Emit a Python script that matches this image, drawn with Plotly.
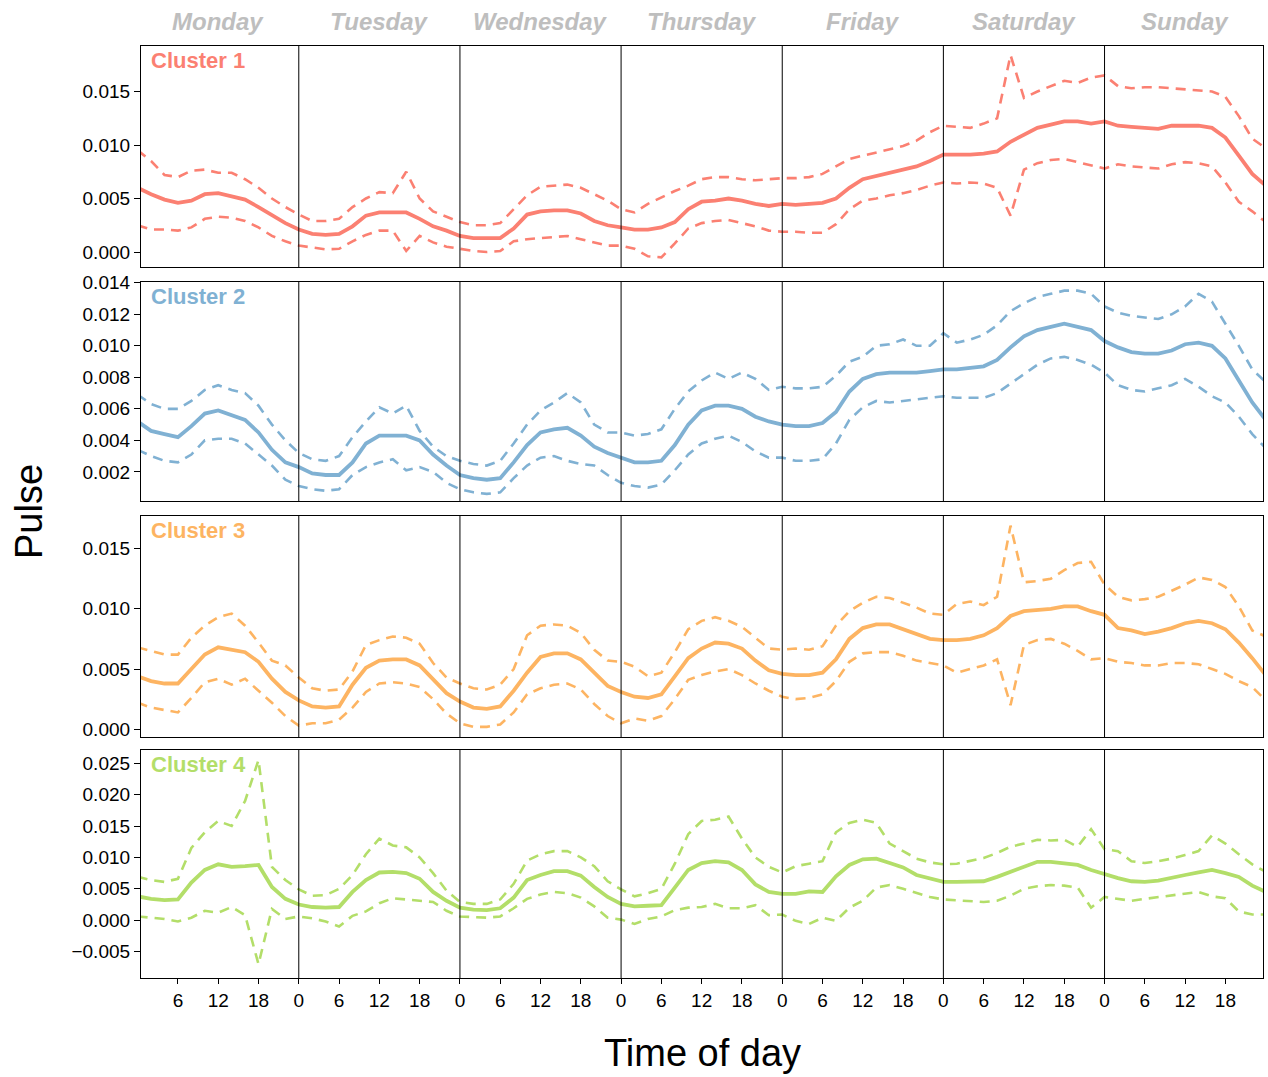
import plotly.graph_objects as go

# ---------------- data ----------------
hours = list(range(0, 169, 2))
day_names = ["Monday", "Tuesday", "Wednesday", "Thursday", "Friday", "Saturday", "Sunday"]
cluster_names = ["Cluster 1", "Cluster 2", "Cluster 3", "Cluster 4"]
tick_hours = [h for h in range(6, 168, 6)]
tick_labels = [str(h % 24) for h in tick_hours]

c1_mid = [0.0060, 0.0054, 0.0049, 0.0046, 0.0048, 0.0054, 0.0055, 0.0052, 0.0049, 0.0042, 0.0034, 0.0027,
          0.0021, 0.0017, 0.0016, 0.0017, 0.0024, 0.0034, 0.0037, 0.0037, 0.0037, 0.0031, 0.0024, 0.0020,
          0.0015, 0.0013, 0.0013, 0.0013, 0.0022, 0.0035, 0.0038, 0.0039, 0.0039, 0.0036, 0.0029, 0.0025,
          0.0023, 0.0021, 0.0021, 0.0023, 0.0028, 0.0040, 0.0047, 0.0048, 0.0050, 0.0048, 0.0045, 0.0043,
          0.0045, 0.0044, 0.0045, 0.0046, 0.0050, 0.0060, 0.0068, 0.0071, 0.0074, 0.0077, 0.0080, 0.0085,
          0.0091, 0.0091, 0.0091, 0.0092, 0.0094, 0.0103, 0.0110, 0.0116, 0.0119, 0.0122, 0.0122, 0.0120,
          0.0122, 0.0118, 0.0117, 0.0116, 0.0115, 0.0118, 0.0118, 0.0118, 0.0116, 0.0107, 0.0090, 0.0073,
          0.0062]
c1_up = [0.0095, 0.0085, 0.0072, 0.0070, 0.0076, 0.0077, 0.0074, 0.0074, 0.0068, 0.0060, 0.0050, 0.0042,
         0.0035, 0.0029, 0.0029, 0.0031, 0.0042, 0.0050, 0.0056, 0.0055, 0.0075, 0.0050, 0.0038, 0.0033,
         0.0028, 0.0025, 0.0025, 0.0027, 0.0040, 0.0053, 0.0061, 0.0062, 0.0063, 0.0060, 0.0054, 0.0048,
         0.0040, 0.0037, 0.0045, 0.0051, 0.0057, 0.0062, 0.0068, 0.0070, 0.0070, 0.0068, 0.0067, 0.0068,
         0.0069, 0.0069, 0.0070, 0.0073, 0.0080, 0.0087, 0.0090, 0.0093, 0.0096, 0.0099, 0.0104, 0.0112,
         0.0118, 0.0117, 0.0116, 0.0120, 0.0125, 0.0184, 0.0144, 0.0150, 0.0155, 0.0160, 0.0158, 0.0163,
         0.0165, 0.0155, 0.0153, 0.0154, 0.0154, 0.0153, 0.0152, 0.0151, 0.0150, 0.0145, 0.0127, 0.0106,
         0.0097]
c1_lo = [0.0025, 0.0021, 0.0021, 0.0020, 0.0023, 0.0031, 0.0033, 0.0032, 0.0029, 0.0023, 0.0015, 0.0010,
         0.0006, 0.0004, 0.00025, 0.0003, 0.0010, 0.0016, 0.0020, 0.0020, 0.0001, 0.0015, 0.0009, 0.0005,
         0.0003, 0.0001, 0.0000, 0.0001, 0.0010, 0.0012, 0.0013, 0.0014, 0.0015, 0.0012, 0.0009, 0.0006,
         0.0006, 0.0003, -0.0004, -0.0005, 0.0008, 0.0022, 0.0027, 0.0029, 0.0030, 0.0027, 0.0024, 0.0020,
         0.0019, 0.0019, 0.0018, 0.0018, 0.0026, 0.0040, 0.0048, 0.0050, 0.0053, 0.0055, 0.0058, 0.0062,
         0.0065, 0.0064, 0.0065, 0.0064, 0.0060, 0.0034, 0.0077, 0.0083, 0.0086, 0.0087, 0.0084, 0.0081,
         0.0078, 0.0082, 0.0080, 0.0079, 0.0078, 0.0082, 0.0084, 0.0083, 0.0080, 0.0065, 0.0047, 0.0038,
         0.0028]

c2_mid = [0.0052, 0.0046, 0.0044, 0.0042, 0.0049, 0.0057, 0.0059, 0.0056, 0.0053, 0.0045, 0.0034, 0.0026,
          0.0023, 0.0019, 0.0018, 0.0018, 0.0026, 0.0038, 0.0043, 0.0043, 0.0043, 0.0040, 0.0031, 0.0024,
          0.0018, 0.0016, 0.0015, 0.0016, 0.0026, 0.0037, 0.0045, 0.0047, 0.0048, 0.0043, 0.0036, 0.0032,
          0.0029, 0.0026, 0.0026, 0.0027, 0.0037, 0.0050, 0.0059, 0.0062, 0.0062, 0.0060, 0.0055, 0.0052,
          0.0050, 0.0049, 0.0049, 0.0051, 0.0058, 0.0071, 0.0079, 0.0082, 0.0083, 0.0083, 0.0083, 0.0084,
          0.0085, 0.0085, 0.0086, 0.0087, 0.0091, 0.0099, 0.0106, 0.0110, 0.0112, 0.0114, 0.0112, 0.0110,
          0.0103, 0.0099, 0.0096, 0.0095, 0.0095, 0.0097, 0.0101, 0.0102, 0.0100, 0.0092, 0.0078, 0.0064,
          0.0053]
c2_up = [0.0069, 0.0063, 0.0060, 0.0060, 0.0065, 0.0072, 0.0075, 0.0072, 0.0070, 0.0062, 0.0050, 0.0040,
         0.0032, 0.0028, 0.0027, 0.0030, 0.0042, 0.0052, 0.0061, 0.0057, 0.0062, 0.0046, 0.0036, 0.0030,
         0.0027, 0.0025, 0.0024, 0.0027, 0.0038, 0.0050, 0.0059, 0.0064, 0.0070, 0.0064, 0.0050, 0.0045,
         0.0045, 0.0043, 0.0044, 0.0047, 0.0060, 0.0071, 0.0078, 0.0083, 0.0079, 0.0083, 0.0079, 0.0072,
         0.0074, 0.0073, 0.0073, 0.0074, 0.0081, 0.0090, 0.0093, 0.0100, 0.0101, 0.0104, 0.0100, 0.0100,
         0.0108, 0.0102, 0.0104, 0.0107, 0.0113, 0.0122, 0.0127, 0.0131, 0.0133, 0.0135, 0.0135, 0.0133,
         0.0125, 0.0121, 0.0119, 0.0118, 0.0117, 0.0120, 0.0125, 0.0133, 0.0128, 0.0114, 0.0100, 0.0085,
         0.0077]
c2_lo = [0.0034, 0.0030, 0.0027, 0.0026, 0.0031, 0.0040, 0.0041, 0.0041, 0.0038, 0.0031, 0.0024, 0.0015,
         0.0011, 0.0009, 0.0008, 0.0009, 0.0018, 0.0023, 0.0026, 0.0028, 0.0021, 0.0023, 0.0020, 0.0013,
         0.0009, 0.0007, 0.0006, 0.0007, 0.0016, 0.0024, 0.0029, 0.0030, 0.0027, 0.0025, 0.0024, 0.0018,
         0.0013, 0.0011, 0.0010, 0.0012, 0.0021, 0.0031, 0.0038, 0.0041, 0.0043, 0.0039, 0.0033, 0.0029,
         0.0029, 0.0027, 0.0027, 0.0028, 0.0038, 0.0053, 0.0061, 0.0065, 0.0064, 0.0065, 0.0066, 0.0067,
         0.0068, 0.0067, 0.0067, 0.0067, 0.0070, 0.0076, 0.0082, 0.0088, 0.0092, 0.0093, 0.0091, 0.0088,
         0.0083, 0.0075, 0.0072, 0.0071, 0.0073, 0.0075, 0.0079, 0.0074, 0.0068, 0.0064, 0.0055, 0.0044,
         0.0035]

c3_mid = [0.0044, 0.0040, 0.0038, 0.0038, 0.0050, 0.0062, 0.0068, 0.0066, 0.0064, 0.0056, 0.0042, 0.0031,
          0.0024, 0.0019, 0.0018, 0.0019, 0.0037, 0.0051, 0.0057, 0.0058, 0.0058, 0.0053, 0.0042, 0.0030,
          0.0023, 0.0018, 0.0017, 0.0019, 0.0032, 0.0047, 0.0060, 0.0063, 0.0063, 0.0058, 0.0047, 0.0036,
          0.0031, 0.0027, 0.0026, 0.0029, 0.0044, 0.0059, 0.0067, 0.0072, 0.0071, 0.0067, 0.0057, 0.0049,
          0.0046, 0.0045, 0.0045, 0.0047, 0.0058, 0.0075, 0.0084, 0.0087, 0.0087, 0.0083, 0.0079, 0.0075,
          0.0074, 0.0074, 0.0075, 0.0078, 0.0084, 0.0094, 0.0098, 0.0099, 0.0100, 0.0102, 0.0102, 0.0098,
          0.0095, 0.0084, 0.0082, 0.0079, 0.0081, 0.0084, 0.0088, 0.0090, 0.0088, 0.0083, 0.0072, 0.0059,
          0.0045]
c3_up = [0.0068, 0.0065, 0.0062, 0.0062, 0.0076, 0.0086, 0.0093, 0.0096, 0.0086, 0.0072, 0.0057, 0.0053,
         0.0043, 0.0034, 0.0032, 0.0033, 0.0048, 0.0070, 0.0074, 0.0077, 0.0076, 0.0071, 0.0055, 0.0043,
         0.0038, 0.0034, 0.0033, 0.0037, 0.0050, 0.0078, 0.0086, 0.0087, 0.0086, 0.0080, 0.0066, 0.0057,
         0.0056, 0.0052, 0.0044, 0.0047, 0.0064, 0.0083, 0.0090, 0.0093, 0.0090, 0.0085, 0.0076, 0.0067,
         0.0066, 0.0067, 0.0066, 0.0069, 0.0086, 0.0098, 0.0105, 0.0110, 0.0109, 0.0105, 0.0101, 0.0096,
         0.0095, 0.0104, 0.0106, 0.0103, 0.0110, 0.0169, 0.0122, 0.0123, 0.0125, 0.0132, 0.0138, 0.0139,
         0.0120, 0.0110, 0.0107, 0.0108, 0.0110, 0.0115, 0.0120, 0.0126, 0.0124, 0.0118, 0.0102, 0.0082,
         0.0077]
c3_lo = [0.0022, 0.0018, 0.0016, 0.0014, 0.0026, 0.0039, 0.0042, 0.0037, 0.0042, 0.0032, 0.0022, 0.0011,
         0.0003, 0.0005, 0.0005, 0.0008, 0.0018, 0.0031, 0.0038, 0.0039, 0.0038, 0.0035, 0.0025, 0.0013,
         0.0005, 0.0002, 0.0002, 0.0004, 0.0014, 0.0029, 0.0034, 0.0037, 0.0038, 0.0033, 0.0021, 0.0011,
         0.0005, 0.0009, 0.0007, 0.0011, 0.0025, 0.0041, 0.0045, 0.0048, 0.0050, 0.0045, 0.0038, 0.0032,
         0.0027, 0.0025, 0.0026, 0.0029, 0.0040, 0.0056, 0.0063, 0.0064, 0.0064, 0.0061, 0.0057, 0.0055,
         0.0053, 0.0047, 0.0050, 0.0053, 0.0058, 0.0020, 0.0070, 0.0074, 0.0075, 0.0071, 0.0065, 0.0058,
         0.0059, 0.0056, 0.0055, 0.0053, 0.0053, 0.0055, 0.0055, 0.0054, 0.0050, 0.0046, 0.0040, 0.0035,
         0.0024]

c4_mid = [0.0038, 0.0034, 0.0032, 0.0033, 0.0060, 0.0080, 0.0089, 0.0085, 0.0086, 0.0088, 0.0053, 0.0034,
          0.0025, 0.0021, 0.0020, 0.0021, 0.0045, 0.0064, 0.0076, 0.0077, 0.0075, 0.0066, 0.0045, 0.0031,
          0.0020, 0.0017, 0.0016, 0.0019, 0.0036, 0.0064, 0.0072, 0.0078, 0.0078, 0.0071, 0.0053, 0.0037,
          0.0026, 0.0022, 0.0023, 0.0024, 0.0052, 0.0080, 0.0091, 0.0094, 0.0092, 0.0080, 0.0057, 0.0045,
          0.0042, 0.0042, 0.0046, 0.0045, 0.0070, 0.0088, 0.0097, 0.0098, 0.0091, 0.0084, 0.0072, 0.0066,
          0.0061, 0.0061, 0.0061, 0.0062, 0.0069, 0.0077, 0.0086, 0.0093, 0.0093, 0.0091, 0.0088, 0.0080,
          0.0073, 0.0067, 0.0062, 0.0061, 0.0063, 0.0068, 0.0072, 0.0076, 0.0080, 0.0075, 0.0069, 0.0055,
          0.0045]
c4_up = [0.0069, 0.0064, 0.0061, 0.0066, 0.0115, 0.0140, 0.0158, 0.0150, 0.0190, 0.0255, 0.0085, 0.0064,
         0.0049, 0.0039, 0.0040, 0.0050, 0.0072, 0.0105, 0.0130, 0.0119, 0.0116, 0.0100, 0.0075, 0.0047,
         0.0029, 0.0026, 0.0026, 0.0033, 0.0058, 0.0095, 0.0105, 0.0110, 0.0110, 0.0100, 0.0086, 0.0062,
         0.0049, 0.0038, 0.0043, 0.0050, 0.0090, 0.0137, 0.0158, 0.0160, 0.0165, 0.0130, 0.0100, 0.0085,
         0.0076, 0.0086, 0.0090, 0.0094, 0.0140, 0.0155, 0.0160, 0.0155, 0.0122, 0.0110, 0.0098, 0.0092,
         0.0089, 0.0090, 0.0095, 0.0099, 0.0107, 0.0117, 0.0122, 0.0128, 0.0127, 0.0128, 0.0117, 0.0145,
         0.0113, 0.0110, 0.0094, 0.0091, 0.0094, 0.0098, 0.0104, 0.0110, 0.0135, 0.0122, 0.0105, 0.0089,
         0.0077]
c4_lo = [0.0006, 0.0004, 0.0002, -0.0002, 0.0004, 0.0015, 0.0012, 0.0021, 0.0008, -0.0070, 0.0018, 0.0002,
         0.0006, 0.0003, -0.0002, -0.0010, 0.0007, 0.0014, 0.0027, 0.0035, 0.0033, 0.0031, 0.0029, 0.0015,
         0.0006, 0.0005, 0.0004, 0.0006, 0.0019, 0.0034, 0.0041, 0.0045, 0.0043, 0.0036, 0.0022, 0.0004,
         0.0001, -0.0006, 0.0002, 0.0006, 0.0016, 0.0020, 0.0021, 0.0026, 0.0019, 0.0019, 0.0024, 0.0008,
         0.0009, -0.0001, -0.0006, 0.0004, -0.0001, 0.0020, 0.0031, 0.0052, 0.0056, 0.0050, 0.0043, 0.0037,
         0.0033, 0.0032, 0.0030, 0.0029, 0.0031, 0.0039, 0.0050, 0.0054, 0.0056, 0.0055, 0.0052, 0.0020,
         0.0037, 0.0034, 0.0031, 0.0034, 0.0037, 0.0040, 0.0043, 0.0045, 0.0038, 0.0035, 0.0014, 0.0009,
         0.0009]

# ---------------- styling ----------------
colors = ["#FB8072", "#80B1D3", "#FDB462", "#B3DE69"]
y_ranges = [[-0.0014, 0.01925], [0.00015, 0.01405], [-0.00064, 0.0177], [-0.0092, 0.0271]]
y_ticks = [[0, 0.005, 0.010, 0.015],
           [0.002, 0.004, 0.006, 0.008, 0.010, 0.012, 0.014],
           [0, 0.005, 0.010, 0.015],
           [-0.005, 0, 0.005, 0.010, 0.015, 0.020, 0.025]]
# panel pixel layout: plot area from y=46 to y=978 (932 px)
H_TOTAL = 932.0
panel_px = [(46, 267), (282, 501), (516, 737), (750, 978)]
domains = [[(978 - b) / H_TOTAL, (978 - t) / H_TOTAL] for (t, b) in panel_px]

series = [(c1_lo, c1_up, c1_mid), (c2_lo, c2_up, c2_mid), (c3_lo, c3_up, c3_mid), (c4_lo, c4_up, c4_mid)]

FONT = "Liberation Sans, Arial, Helvetica, sans-serif"

fig = go.Figure()
for i, (lo, up, mid) in enumerate(series):
    ax = "" if i == 0 else str(i + 1)
    for vals, dash, w in [(lo, "10px,7px", 2.6), (up, "10px,7px", 2.6), (mid, "solid", 3.8)]:
        fig.add_trace(go.Scatter(x=hours, y=vals, mode="lines", xaxis="x" + ax, yaxis="y" + ax,
                                 line=dict(color=colors[i], width=w, dash=dash),
                                 showlegend=False, hoverinfo="skip"))

layout = dict(
    width=1268, height=1077,
    margin=dict(l=141, r=5, t=46, b=99),
    paper_bgcolor="white", plot_bgcolor="white",
    font=dict(family=FONT, color="black", size=19),
    showlegend=False,
)
for i in range(4):
    ax = "" if i == 0 else str(i + 1)
    bottom = (i == 3)
    layout["xaxis" + ax] = dict(
        range=[0.5, 167.6], domain=[0, 1], anchor="y" + ax,
        showline=True, mirror=True, linecolor="black", linewidth=1.2,
        showgrid=False, zeroline=False,
        tickmode="array", tickvals=tick_hours, ticktext=tick_labels,
        showticklabels=bottom, ticks="outside" if bottom else "",
        ticklen=5, tickcolor="black", tickfont=dict(size=19),
    )
    layout["yaxis" + ax] = dict(
        range=y_ranges[i], domain=domains[i], anchor="x" + ax,
        showline=True, mirror=True, linecolor="black", linewidth=1.2,
        showgrid=False, zeroline=False,
        tickmode="array", tickvals=y_ticks[i], tickformat=".3f",
        ticks="outside", ticklen=6, tickcolor="black", tickfont=dict(size=19),
    )
fig.update_layout(**layout)

shapes = []
annotations = []
for i in range(4):
    ax = "" if i == 0 else str(i + 1)
    for d in range(1, 7):
        shapes.append(dict(type="line", xref="x" + ax, yref="y" + ax + " domain",
                           x0=24 * d, x1=24 * d, y0=0, y1=1,
                           line=dict(color="black", width=1)))
    annotations.append(dict(text="<b>" + cluster_names[i] + "</b>", xref="x" + ax + " domain",
                            yref="y" + ax + " domain", x=0.007, y=0.935,
                            xanchor="left", yanchor="middle", showarrow=False,
                            font=dict(size=22, color=colors[i], family=FONT)))

for d, name in enumerate(day_names):
    annotations.append(dict(text="<b><i>" + name + "</i></b>", xref="x", yref="paper",
                            x=24 * d + 12, y=1 + 24 / H_TOTAL, xanchor="center", yanchor="middle",
                            showarrow=False, font=dict(size=24, color="#BEBEBE", family=FONT)))

annotations.append(dict(text="Pulse", xref="paper", yref="paper", x=(29 - 141) / 1122.0, y=0.5,
                        textangle=-90, xanchor="center", yanchor="middle", showarrow=False,
                        font=dict(size=38, color="black", family=FONT)))
annotations.append(dict(text="Time of day", xref="paper", yref="paper", x=0.5, y=(978 - 1053) / H_TOTAL,
                        xanchor="center", yanchor="middle", showarrow=False,
                        font=dict(size=38, color="black", family=FONT)))

fig.update_layout(shapes=shapes, annotations=annotations)
fig.write_html("out.html", config={"displayModeBar": False},
               post_script="document.body.style.margin='0';document.body.style.padding='0';")
